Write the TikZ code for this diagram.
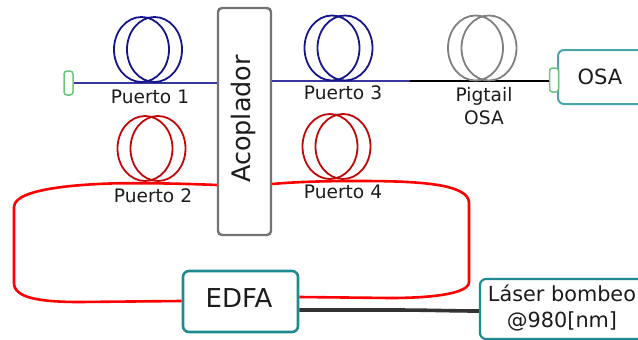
\documentclass[tikz,border=0pt]{standalone}
\usepackage{fontspec}
\setmainfont{DejaVu Sans}
\usetikzlibrary{shapes.geometric}
\definecolor{navyfib}{HTML}{14148C}
\definecolor{darkred}{HTML}{C00808}
\definecolor{grayfib}{HTML}{808080}
\definecolor{tealbox}{HTML}{1F8A90}
\definecolor{tealosa}{HTML}{4AA5A8}
\definecolor{greenconn}{HTML}{6CC57C}
\definecolor{txt}{HTML}{1C1C1C}
\tikzset{
  coil/.style={draw=#1,ellipse,line width=1.8pt,minimum width=55pt,minimum height=65pt,inner sep=0pt},
  connbox/.style={draw=greenconn,fill=white,line width=1.5pt,rounded corners=3pt,minimum width=9pt,minimum height=24pt,inner sep=0pt},
  fibblue/.style={draw=navyfib!85!white,line width=1.7pt},
  fibblack/.style={draw=black,line width=1.7pt},
  fibred/.style={draw=red,line width=2.6pt},
  fibpump/.style={draw=black!80,line width=3.6pt},
  teal box/.style={draw=tealbox,fill=white,line width=2.6pt,rounded corners=6pt,inner sep=0pt},
  lbl/.style={text=txt,inner sep=0pt,align=center,font=\fontsize{18.6}{23}\selectfont},
}
\begin{document}
\begin{tikzpicture}[x=1pt,y=-1pt]
\useasboundingbox (0,0) rectangle (638,340);
% boxes
\node[draw=black!55,fill=white,line width=2.4pt,rounded corners=4pt,inner sep=0pt,minimum width=53pt,minimum height=227pt] (acop) at (244.5,121.5) {};
\node[rotate=90,text=txt,inner sep=0pt,font=\fontsize{25.5}{30}\selectfont] (acoptxt) at (243,119) {Acoplador};
\node[teal box,minimum width=115pt,minimum height=61pt] (edfa) at (240.5,301.5) {};
\node[text=txt,inner sep=0pt,font=\fontsize{26}{30}\selectfont] (edfatxt) at (239,298) {EDFA};
\node[teal box,draw=tealosa,line width=2pt,minimum width=90pt,minimum height=54pt] (osa) at (603,77) {};
\node[text=txt,inner sep=0pt,font=\fontsize{21}{26}\selectfont] (osatxt) at (600,77) {OSA};
\node[teal box,line width=2.2pt,minimum width=170pt,minimum height=60pt] (laser) at (565,309) {};
\node[lbl,font=\fontsize{20.8}{26.5}\selectfont] (lasertxt) at (562,308) {Láser bombeo\\@980[nm]};
% connectors
\node[connbox] (c1) at (68.5,83) {};
\node[connbox] (c2) at (554,80) {};
\coordinate (split) at (410,81);
\draw[fibblue] (c1.east) -- (acop.west |- c1.east);
\draw[fibblue] (acop.east |- split) -- (split);
\draw[fibblack] (split) -- (c2.west |- split);
% coils
\node[coil=navyfib] (p1a) at (141.5,49.5) {};
\node[coil=navyfib] (p1b) at (154.5,49.5) {};
\node[coil=navyfib] (p3a) at (332,48) {};
\node[coil=navyfib] (p3b) at (345,48) {};
\node[coil=grayfib] (pga) at (475.5,48) {};
\node[coil=grayfib] (pgb) at (489,48) {};
\node[coil=darkred] (p2a) at (145,148.5) {};
\node[coil=darkred] (p2b) at (158,148.5) {};
\node[coil=darkred] (p4a) at (330,146.5) {};
\node[coil=darkred] (p4b) at (343,146.5) {};
% red fibres
\draw[fibred] (acop.west |- 0,185) .. controls (180,183.5) and (150,183) .. (117,183.3) .. controls (90,184) and (14,187) .. (14,207) -- (14,283) .. controls (14,298) and (40,302) .. (80,302) -- (edfa.west |- 0,301);
\draw[fibred] (acop.east |- 0,184) .. controls (300,181.5) and (330,181) .. (360,181) .. controls (420,181) and (469,184) .. (469,203) -- (469,282) .. controls (469,294) and (430,298) .. (390,298) -- (edfa.east |- 0,297);
\draw[fibpump] (edfa.east |- 0,310) -- (390,310) .. controls (430,310) and (450,311) .. (laser.west |- 0,311);
% labels
\node[lbl] (l1) at (150,97) {Puerto 1};
\node[lbl] (l2) at (153,195.5) {Puerto 2};
\node[lbl] (l3) at (343,93) {Puerto 3};
\node[lbl] (l4) at (343,191.5) {Puerto 4};
\node[lbl] (lpg) at (484,106) {Pigtail\\OSA};
\end{tikzpicture}
\end{document}
